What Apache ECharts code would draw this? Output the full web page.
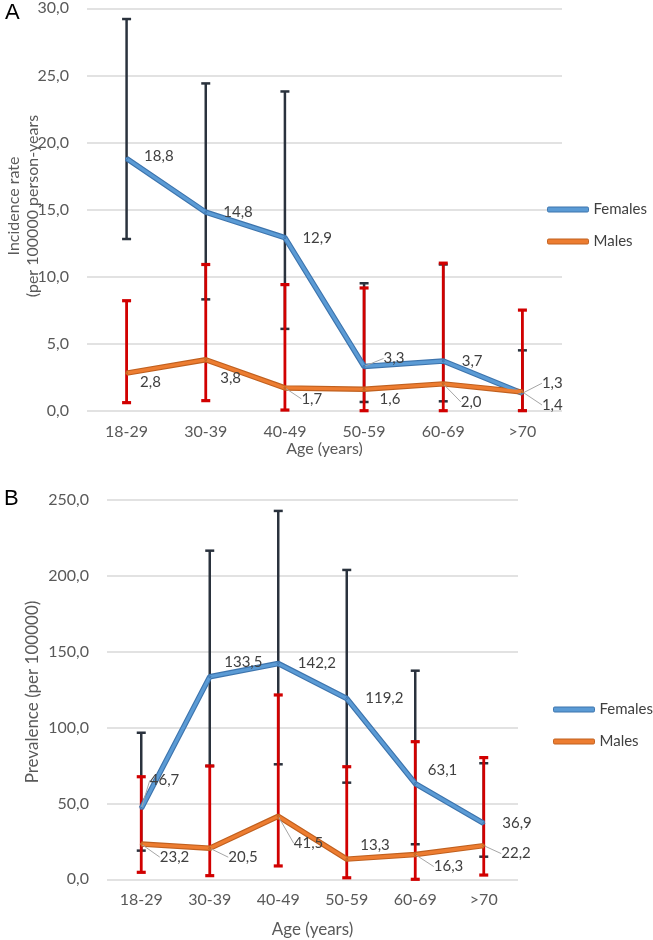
<!DOCTYPE html>
<html>
<head>
<meta charset="utf-8">
<script src="https://cdn.jsdelivr.net/npm/echarts@6/dist/echarts.min.js"></script>
<style>html,body{margin:0;padding:0;background:#fff}#c{width:653px;height:940px}</style>
</head>
<body>
<div id="c"></div>
<script>
// ---- data ----
const categories = ['18-29','30-39','40-49','50-59','60-69','>70'];
// Panel A: incidence rate (per 100000 person-years)
const incFemales = [18.8, 14.8, 12.9, 3.3, 3.7, 1.3];
const incMales   = [2.8, 3.8, 1.7, 1.6, 2.0, 1.4];
const incFemalesLow  = [12.8, 8.3, 6.1, 0.65, 0.7, 0.0];
const incFemalesHigh = [29.2, 24.4, 23.8, 9.5, 10.9, 4.5];
const incMalesLow    = [0.6, 0.75, 0.05, 0.0, 0.0, 0.0];
const incMalesHigh   = [8.2, 10.9, 9.4, 9.15, 11.0, 7.5];
const incTicks = [0, 5, 10, 15, 20, 25, 30];
// Panel B: prevalence (per 100000)
const prevFemales = [46.7, 133.5, 142.2, 119.2, 63.1, 36.9];
const prevMales   = [23.2, 20.5, 41.5, 13.3, 16.3, 22.2];
const prevFemalesLow  = [18.9, 74.7, 75.8, 63.7, 23.1, 14.9];
const prevFemalesHigh = [96.6, 216.6, 242.8, 203.9, 137.5, 76.5];
const prevMalesLow    = [4.6, 2.4, 8.8, 1.0, 0.0, 2.8];
const prevMalesHigh   = [67.6, 74.7, 121.5, 74.2, 90.7, 80.2];
const prevTicks = [0, 50, 100, 150, 200, 250];

// ---- label placement (styles, kept apart from data) ----
const incFemOff  = [[16,-2],[16,0],[16,0],[18,-8],[17,0],[18,-10]];
const incMalOff  = [[12,9],[13,18],[15,11],[14,10],[16,18],[18,13]];
const prevFemOff = [[7,-28],[13,-15],[18,0],[17,0],[11,-13],[17,0]];
const prevMalOff = [[17,13],[17,9],[14,27],[12,-14],[17,12],[16,8]];
const incFemLead  = [0,0,0,1,0,1];
const incMalLead  = [0,0,1,0,1,1];
const prevFemLead = [1,0,0,0,0,0];
const prevMalLead = [1,1,1,0,1,1];

const FONT = 'Lato, "Open Sans", sans-serif';
const fmt = v => Number(v).toFixed(1).replace('.', ',');
const BLUE = '#5b9bd5', BLUE_EDGE = '#3d74ad';
const ORANGE = '#ed7d31', ORANGE_EDGE = '#c0601f';
const DARK = '#2a323d', RED = '#d10000';

function errData(lo, hi){ return categories.map((c,i)=>[i, lo[i], hi[i]]); }
function errSeries(lo, hi, color, idx, lw, capH){
  return {
    type:'custom', xAxisIndex:idx, yAxisIndex:idx, z:2, silent:true,
    data: errData(lo, hi),
    renderItem: function(params, api){
      const x = api.value(0);
      const p1 = api.coord([x, api.value(1)]);
      const p2 = api.coord([x, api.value(2)]);
      const w = 4.5;
      const st = {stroke:color, lineWidth:lw};
      const cs = {stroke:color, lineWidth:capH};
      return {type:'group', children:[
        {type:'line', shape:{x1:p1[0],y1:p1[1],x2:p2[0],y2:p2[1]}, style:st},
        {type:'line', shape:{x1:p1[0]-w,y1:p1[1],x2:p1[0]+w,y2:p1[1]}, style:cs},
        {type:'line', shape:{x1:p2[0]-w,y1:p2[1],x2:p2[0]+w,y2:p2[1]}, style:cs}
      ]};
    }
  };
}
function lineData(vals, lead){
  return vals.map((v,i)=>({value:v, labelLine:{show:!!lead[i]}}));
}
function lineSeries(name, vals, offs, lead, color, edge, idx){
  return [
    {name:name+' ', type:'line', xAxisIndex:idx, yAxisIndex:idx, data:vals, z:3, silent:true,
     symbol:'none', lineStyle:{color:edge, width:5.5}, itemStyle:{color:edge}},
    {name:name, type:'line', xAxisIndex:idx, yAxisIndex:idx, z:4, silent:true,
     data:lineData(vals, lead), symbol:'circle', symbolSize:2,
     lineStyle:{color:color, width:3.2}, itemStyle:{color:color, borderColor:edge},
     label:{show:true, position:'right', distance:0, formatter:p=>fmt(p.value),
            color:'#404040', fontSize:15, fontFamily:FONT},
     labelLine:{show:false, length2:0, lineStyle:{color:'#a6a6a6', width:1}},
     labelLayout:function(p){ const o = offs[p.dataIndex]; return {dx:o[0], dy:o[1]}; }}
  ];
}
function xAx(idx, gap, nameSize){
  return {type:'category', gridIndex:idx, data:categories, boundaryGap:true,
    axisLine:{show:false}, axisTick:{show:false},
    axisLabel:{color:'#595959', fontSize:16, fontFamily:FONT, margin:13},
    name:'Age (years)', nameLocation:'middle', nameGap:gap,
    nameTextStyle:{color:'#595959', fontSize:nameSize, fontFamily:FONT}};
}
function yAx(idx, max, interval){
  return {type:'value', gridIndex:idx, min:0, max:max, interval:interval,
    axisLine:{show:false}, axisTick:{show:false},
    splitLine:{lineStyle:{color:'#d9d9d9', width:1.6}},
    axisLabel:{color:'#595959', fontSize:16, fontFamily:FONT, margin:18, formatter:v=>fmt(v)}};
}
function legend(top, left){
  return {orient:'vertical', left:left, top:top, itemWidth:41, itemHeight:5, itemGap:17,
    icon:'roundRect', textStyle:{color:'#404040', fontSize:15, fontFamily:FONT, lineHeight:15},
    selectedMode:false, data:[
      {name:'Females', itemStyle:{color:BLUE, borderColor:BLUE_EDGE, borderWidth:1}},
      {name:'Males', itemStyle:{color:ORANGE, borderColor:ORANGE_EDGE, borderWidth:1}}
    ]};
}

const chart = echarts.init(document.getElementById('c'), null, {renderer:'canvas'});
chart.setOption({
  animation:false,
  backgroundColor:'#fff',
  grid:[
    {left:87, top:8.3, width:475, height:402.4, containLabel:false, outerBoundsMode:'none'},
    {left:107, top:500, width:411, height:379.3, containLabel:false, outerBoundsMode:'none'}
  ],
  xAxis:[xAx(0, 29, 16), xAx(1, 42, 17)],
  yAxis:[yAx(0, incTicks[incTicks.length-1], incTicks[1]-incTicks[0]),
         yAx(1, prevTicks[prevTicks.length-1], prevTicks[1]-prevTicks[0])],
  legend:[legend(197, 542), legend(697, 548)],
  graphic:[
    {type:'text', left:5, top:2, style:{text:'A', fontSize:22, fontFamily:'"Liberation Sans", Arial, sans-serif', fill:'#000'}},
    {type:'text', left:4, top:488, style:{text:'B', fontSize:22, fontFamily:'"Liberation Sans", Arial, sans-serif', fill:'#000'}},
    {type:'text', x:14, y:206, rotation:Math.PI/2, style:{text:'Incidence rate', fontSize:16, fontFamily:FONT, fill:'#595959', align:'center', verticalAlign:'middle'}},
    {type:'text', x:33, y:206, rotation:Math.PI/2, style:{text:'(per 100000 person-years', fontSize:16, fontFamily:FONT, fill:'#595959', align:'center', verticalAlign:'middle'}},
    {type:'text', x:33, y:692, rotation:Math.PI/2, style:{text:'Prevalence (per 100000)', fontSize:17, fontFamily:FONT, fill:'#595959', align:'center', verticalAlign:'middle'}}
  ],
  series:[
    errSeries(incFemalesLow, incFemalesHigh, DARK, 0, 2.5, 2.5),
    errSeries(incMalesLow, incMalesHigh, RED, 0, 2.8, 3.2),
    ...lineSeries('Females', incFemales, incFemOff, incFemLead, BLUE, BLUE_EDGE, 0),
    ...lineSeries('Males', incMales, incMalOff, incMalLead, ORANGE, ORANGE_EDGE, 0),
    errSeries(prevFemalesLow, prevFemalesHigh, DARK, 1, 2.5, 2.5),
    errSeries(prevMalesLow, prevMalesHigh, RED, 1, 2.8, 3.2),
    ...lineSeries('Females', prevFemales, prevFemOff, prevFemLead, BLUE, BLUE_EDGE, 1),
    ...lineSeries('Males', prevMales, prevMalOff, prevMalLead, ORANGE, ORANGE_EDGE, 1)
  ]
});
</script>
</body>
</html>
